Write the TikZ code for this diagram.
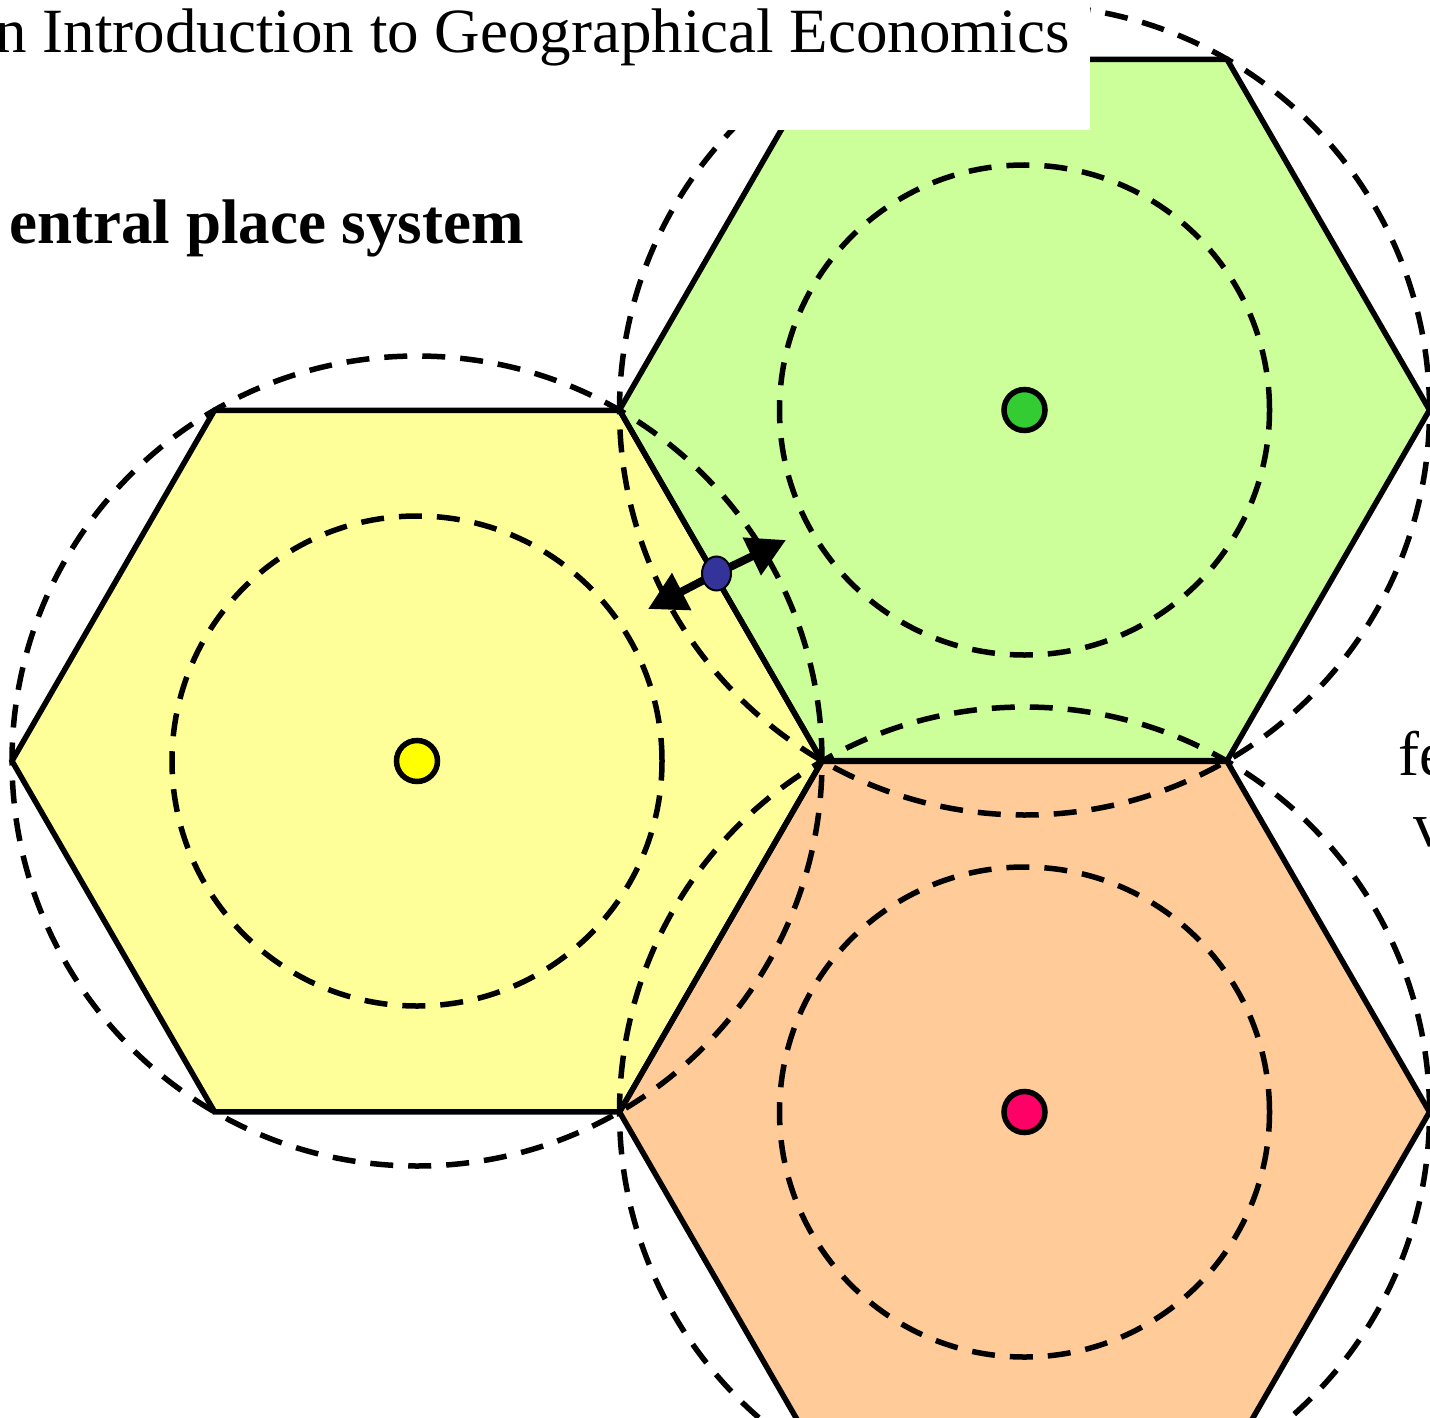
\documentclass[tikz,border=0pt]{standalone}
\usepackage{fontspec}
\setmainfont{Liberation Serif}
\usetikzlibrary{arrows.meta,shapes.geometric}
\definecolor{PaleYellow}{RGB}{255,255,153}
\definecolor{PaleGreen}{RGB}{204,255,153}
\definecolor{PaleOrange}{RGB}{255,204,153}
\definecolor{TownYellow}{RGB}{255,255,0}
\definecolor{TownGreen}{RGB}{51,204,51}
\definecolor{TownRed}{RGB}{255,0,102}
\definecolor{FirmBlue}{RGB}{51,51,153}
\tikzset{
  market/.style={draw=black,line width=5.5pt,line join=miter},
  reach/.style={draw=black,line width=5.5pt,dash pattern=on 23pt off 15pt},
  town/.style={circle,draw=black,line width=5.5pt,minimum size=41pt,inner sep=0pt},
  firm/.style={ellipse,draw=black,line width=2pt,fill=FirmBlue,minimum width=29pt,minimum height=34pt,inner sep=0pt},
  trade/.style={-{Triangle[length=38pt,width=40pt]},line width=8pt},
  heading/.style={font=\fontsize{63}{70}\selectfont,inner sep=0pt}
}
\begin{document}
\begin{tikzpicture}[x=1pt,y=-1pt]
\useasboundingbox (0,0) rectangle (1430,1418);
% market areas
\foreach \name/\cx/\cy/\col in {yel/417/761/PaleYellow,grn/1024.5/410/PaleGreen,ora/1024.5/1112/PaleOrange}{
  \coordinate (\name) at (\cx,\cy);
  \fill[\col] (\name) ++(0:405pt) -- ++(120:405pt) -- ++(180:405pt) -- ++(240:405pt) -- ++(300:405pt) -- ++(0:405pt) -- cycle;
}
\foreach \name in {yel,grn,ora}{
  \draw[reach] (\name) circle[radius=245pt];
  \draw[reach] (\name) circle[radius=405pt];
}
\foreach \name in {yel,grn,ora}
  \draw[market] (\name) ++(0:405pt) -- ++(120:405pt) -- ++(180:405pt) -- ++(240:405pt) -- ++(300:405pt) -- ++(0:405pt) -- cycle;
% towns
\node[town,fill=TownYellow] (yeltown) at (yel) {};
\node[town,fill=TownGreen] (grntown) at (grn) {};
\node[town,fill=TownRed] (oratown) at (ora) {};
% firm on the border
\coordinate (shop) at (716.5,573.5);
\coordinate (west) at (648,609);
\coordinate (east) at (786,540);
\draw[trade] (shop) -- (west);
\draw[trade] (shop) -- (east);
\node[firm] (firm) at (shop) {};
% labels
\fill[white] (0,0) rectangle (1090,130);
\node[heading,anchor=base east] (title) at (1070,53) {n Introduction to Geographical Economics};
\node[heading,font=\fontsize{63}{70}\selectfont\bfseries,anchor=base east] (sub) at (524,243) {entral place system};
\node[heading,anchor=base west] (side1) at (1398,775) {fe};
\node[heading,anchor=base west] (side2) at (1413,846) {v};
\end{tikzpicture}
\end{document}
